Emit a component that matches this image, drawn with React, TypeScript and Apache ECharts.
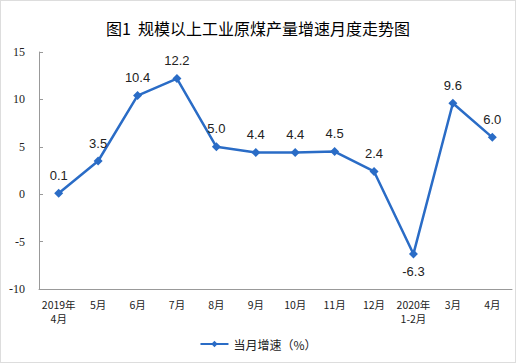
import React, { useEffect, useRef } from "react";
import * as echarts from "echarts";

const categories = ["2019年\n4月", "5月", "6月", "7月", "8月", "9月", "10月", "11月", "12月", "2020年\n1-2月", "3月", "4月"];
const growth = [0.1, 3.5, 10.4, 12.2, 5.0, 4.4, 4.4, 4.5, 2.4, -6.3, 9.6, 6.0];
const seriesName = "当月增速（%）";
const titleText = "图1  规模以上工业原煤产量增速月度走势图";

export default function App() {
  const ref = useRef<HTMLDivElement>(null);
  useEffect(() => {
    document.body.style.margin = "0";
    const chart = echarts.init(ref.current!, null, { renderer: "svg" });
    chart.setOption({
      animation: false,
      backgroundColor: "#fff",
      title: {
        text: titleText,
        left: "center",
        top: 14,
        textStyle: { fontSize: 16, fontWeight: "normal", color: "#000", fontFamily: "Noto Sans CJK SC" },
      },
      grid: { left: 38, right: 3, top: 51, bottom: 73 },
      legend: {
        bottom: 7,
        left: "center",
        itemWidth: 28,
        itemHeight: 8,
        textStyle: { fontSize: 12, color: "#222", fontFamily: "Noto Sans CJK SC" },
        data: [seriesName],
      },
      xAxis: {
        type: "category",
        data: categories,
        boundaryGap: true,
        axisLine: { onZero: false, lineStyle: { color: "#999", width: 1 } },
        axisTick: { inside: true, length: 4, lineStyle: { color: "#999" } },
        axisLabel: { fontSize: 10.5, color: "#222", fontFamily: "Noto Sans CJK SC", margin: 8, lineHeight: 14, interval: 0 },
      },
      yAxis: {
        type: "value",
        min: -10,
        max: 15,
        interval: 5,
        axisLine: { show: true, lineStyle: { color: "#999", width: 1 } },
        axisTick: { show: true, inside: true, length: 4, lineStyle: { color: "#999" } },
        splitLine: { show: false },
        axisLabel: { fontSize: 12, color: "#222", fontFamily: "Liberation Serif", margin: 14 },
      },
      series: [
        {
          name: seriesName,
          type: "line",
          data: growth.map((v) => ({
            value: v,
            label: { position: v < 0 ? "bottom" : "top" },
          })),
          symbol: "diamond",
          symbolSize: 9,
          lineStyle: { color: "#2a6cc6", width: 2.5 },
          itemStyle: { color: "#2a6cc6" },
          label: {
            show: true,
            fontSize: 13,
            color: "#222",
            fontFamily: "Liberation Sans",
            distance: 7,
            formatter: (p: any) => Number(p.value).toFixed(1),
          },
        },
      ],
    });
    return () => chart.dispose();
  }, []);
  return (
    <div
      ref={ref}
      style={{ width: 516, height: 363, boxSizing: "border-box", border: "1px solid #ddd" }}
    />
  );
}
